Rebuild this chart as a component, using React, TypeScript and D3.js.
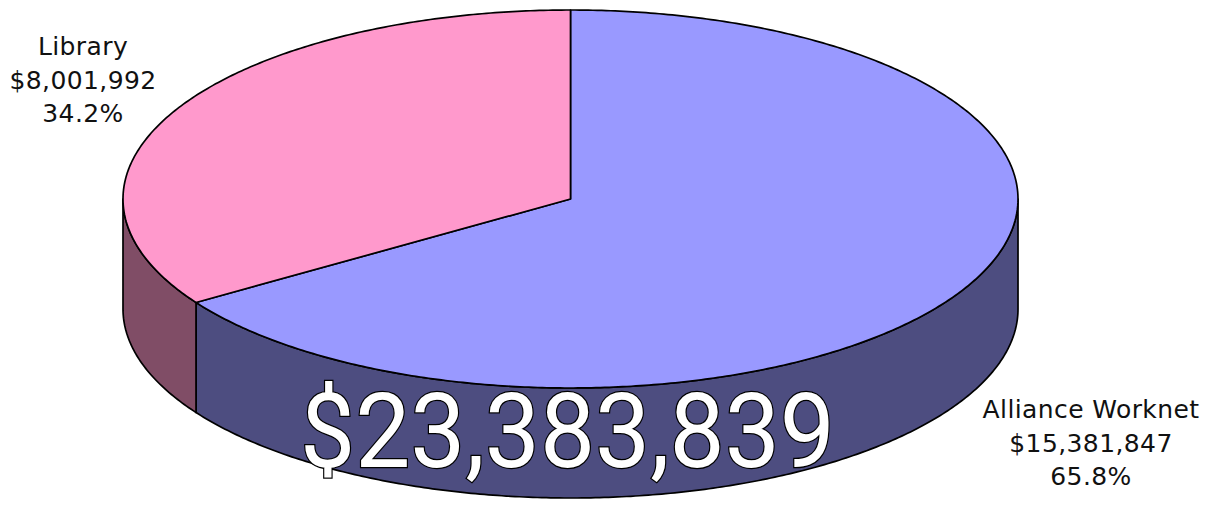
import React from "react";
import * as d3 from "d3";

// chart data
const categories = ["Alliance Worknet", "Library"];
const amounts = [15381847, 8001992];
const topColors = ["#9999FF", "#FF99CC"];
const sideColors = ["#4D4D80", "#804D66"];

const W = 1213;
const H = 506;
const cx = 570.5;
const cy = 199;
const rx = 447.5;
const ry = 189;
const depth = 110;

// label anchors (layout only)
const labelPos: Record<string, { x: number; y: number }> = {
  "Alliance Worknet": { x: 1091, y: 418 },
  Library: { x: 83, y: 55 },
};

const fmtMoney = (v: number) => "$" + d3.format(",")(v);
const fmtPct = d3.format(".1%");

function pt(a: number, dy = 0): [number, number] {
  return [cx + rx * Math.sin(a), cy - ry * Math.cos(a) + dy];
}

function arcPoints(a0: number, a1: number, dy = 0) {
  const n = Math.max(2, Math.ceil(Math.abs(a1 - a0) / 0.01));
  return d3.range(n + 1).map((i) => pt(a0 + ((a1 - a0) * i) / n, dy));
}

export default function App() {
  const total = d3.sum(amounts);
  const data = categories.map((c, i) => ({ name: c, value: amounts[i], i }));
  const arcs = d3.pie<any>().sort(null).value((d) => d.value)(data);

  const line = d3.line();

  // visible front walls (angles between 90 and 270 deg)
  const walls = arcs
    .map((a) => {
      const s = Math.max(a.startAngle, Math.PI / 2);
      const e = Math.min(a.endAngle, (3 * Math.PI) / 2);
      if (e <= s) return null;
      const pts = [...arcPoints(s, e), ...arcPoints(e, s, depth)];
      return { d: line(pts) + "Z", fill: sideColors[a.data.i], key: a.data.name };
    })
    .filter(Boolean) as { d: string; fill: string; key: string }[];

  const tops = arcs.map((a) => {
    const pts = [[cx, cy] as [number, number], ...arcPoints(a.startAngle, a.endAngle)];
    return { d: line(pts) + "Z", fill: topColors[a.data.i], key: a.data.name };
  });

  const labelFont = "'DejaVu Sans', Verdana, sans-serif";

  return (
    <svg width={W} height={H} style={{ position: "absolute", left: 0, top: 0, background: "#fff" }}>
      <rect width={W} height={H} fill="#fff" />
      <g stroke="#000" strokeWidth={1.7} strokeLinejoin="round">
        {walls.map((w) => (
          <path key={"w" + w.key} d={w.d} fill={w.fill} />
        ))}
        {tops.map((t) => (
          <path key={"t" + t.key} d={t.d} fill={t.fill} />
        ))}
      </g>
      <text
        x={300}
        y={467}
        fontFamily="'Liberation Sans Narrow', Roboto, sans-serif"
        fontSize={103}
        textLength={535}
        lengthAdjust="spacingAndGlyphs"
        fill="#fff"
        stroke="#000"
        strokeWidth={2.5}
        paintOrder="stroke"
      >
        {fmtMoney(total)}
      </text>
      {arcs.map((a) => {
        const p = labelPos[a.data.name];
        return (
          <text
            key={"l" + a.data.name}
            x={p.x}
            y={p.y}
            textAnchor="middle"
            fontFamily={labelFont}
            fontSize={25}
            letterSpacing={0.4}
            fill="#111"
          >
            <tspan x={p.x}>{a.data.name}</tspan>
            <tspan x={p.x} dy={33.5}>
              {fmtMoney(a.data.value)}
            </tspan>
            <tspan x={p.x} dy={33.5}>
              {fmtPct(a.data.value / total)}
            </tspan>
          </text>
        );
      })}
    </svg>
  );
}
